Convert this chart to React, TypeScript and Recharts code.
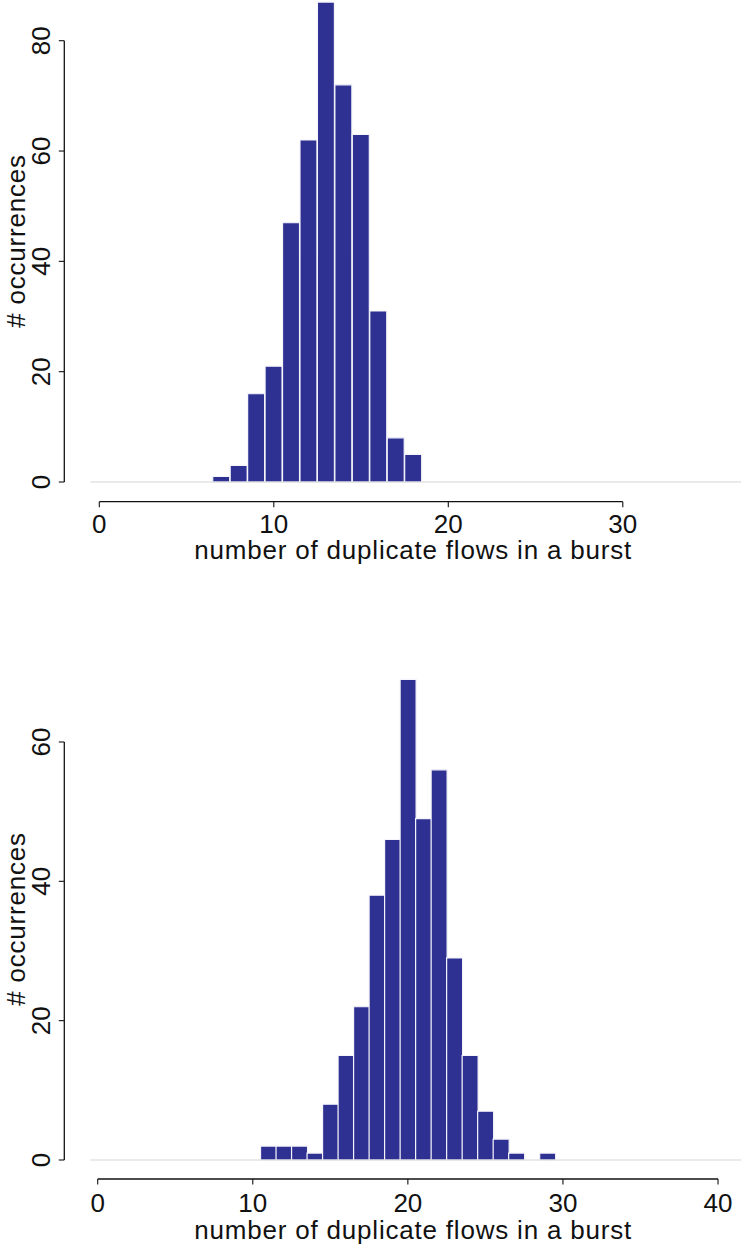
import React from 'react';
import { ComposedChart, Bar, XAxis, YAxis, ReferenceLine } from 'recharts';

// ---- data: top histogram ----
const burstSizesTop = [7, 8, 9, 10, 11, 12, 13, 14, 15, 16, 17, 18];
const occurrencesTop = [1, 3, 16, 21, 47, 62, 87, 72, 63, 31, 8, 5];
const xTicksTop = [0, 10, 20, 30];
const yTicksTop = [0, 20, 40, 60, 80];

// ---- data: bottom histogram ----
const burstSizesBottom = [11, 12, 13, 14, 15, 16, 17, 18, 19, 20, 21, 22, 23, 24, 25, 26, 27, 28, 29];
const occurrencesBottom = [2, 2, 2, 1, 8, 15, 22, 38, 46, 69, 49, 56, 29, 15, 7, 3, 1, 0, 1];
const xTicksBottom = [0, 10, 20, 30, 40];
const yTicksBottom = [0, 20, 40, 60];

const xLabelText = 'number of duplicate flows in a burst';
const yLabelText = '# occurrences';

const FONT = '"Liberation Sans", Arial, Helvetica, sans-serif';
const TEXT = '#111111';
const BAR = '#2E3192';

const YTick = (props: any) => {
  const { x, y, payload } = props;
  return (
    <text
      x={x}
      y={y}
      transform={`rotate(-90 ${x} ${y})`}
      textAnchor="middle"
      fontSize={26}
      fontFamily={FONT}
      fill={TEXT}
    >
      {payload.value}
    </text>
  );
};

type HistProps = {
  sizes: number[];
  counts: number[];
  xTicks: number[];
  yTicks: number[];
  height: number;
  plotBottom: number;
  xDomain: [number, number];
  yDomain: [number, number];
  xTickMargin: number;
  xLabelBaseline: number;
  yLabelCenter: number;
  binStart: number;
};

const Histogram = (p: HistProps) => {
  const xAxisHeight = p.height - p.plotBottom;
  const data = p.sizes.map((s, i) => ({ size: s, count: p.counts[i] }));
  const xFirst = p.xTicks[0];
  const xLast = p.xTicks[p.xTicks.length - 1];
  const yFirst = p.yTicks[0];
  const yLast = p.yTicks[p.yTicks.length - 1];
  return (
    <ComposedChart
      width={741}
      height={p.height}
      data={data}
      margin={{ top: 0, right: 0, bottom: 0, left: 0 }}
      barCategoryGap={0}
      barGap={0}
    >
      <XAxis
        dataKey="size"
        type="number"
        domain={p.xDomain}
        allowDataOverflow
        ticks={p.xTicks}
        interval={0}
        axisLine={false}
        tickLine={{ stroke: TEXT, strokeWidth: 1.1 }}
        tickSize={5.5}
        tickMargin={p.xTickMargin}
        tick={{ fontSize: 26, fontFamily: FONT, fill: TEXT }}
        height={xAxisHeight}
        label={{
          content: (lp: any) => {
            const vb = lp.viewBox || {};
            return (
              <text
                x={vb.x + vb.width / 2 + 10.5}
                y={vb.y + p.xLabelBaseline}
                textAnchor="middle"
                fontSize={26}
                letterSpacing={0.8}
                fontFamily={FONT}
                fill={TEXT}
              >
                {xLabelText}
              </text>
            );
          },
        }}
      />
      <YAxis
        type="number"
        domain={p.yDomain}
        allowDataOverflow
        ticks={p.yTicks}
        interval={0}
        width={64.3}
        axisLine={false}
        tickLine={{ stroke: TEXT, strokeWidth: 1.1 }}
        tickSize={5.5}
        tickMargin={8.3}
        tick={<YTick />}
        label={{
          content: (lp: any) => {
            const vb = lp.viewBox || {};
            const cx = vb.x + 25.3;
            const cy = vb.y + p.yLabelCenter;
            return (
              <text
                x={cx}
                y={cy}
                transform={`rotate(-90 ${cx} ${cy})`}
                textAnchor="middle"
                fontSize={26}
                letterSpacing={0.8}
                fontFamily={FONT}
                fill={TEXT}
              >
                {yLabelText}
              </text>
            );
          },
        }}
      />
      <ReferenceLine
        segment={[
          { x: p.binStart, y: 0 },
          { x: p.xDomain[1], y: 0 },
        ]}
        stroke="#d6d6d6"
        strokeWidth={1.2}
        ifOverflow="visible"
      />
      <Bar dataKey="count" fill={BAR} stroke="#f4f4fa" strokeWidth={1.2} isAnimationActive={false} />
      <ReferenceLine
        segment={[
          { x: xFirst, y: p.yDomain[0] },
          { x: xLast, y: p.yDomain[0] },
        ]}
        stroke={TEXT}
        strokeWidth={1.3}
        ifOverflow="visible"
      />
      <ReferenceLine
        segment={[
          { x: p.xDomain[0], y: yFirst },
          { x: p.xDomain[0], y: yLast },
        ]}
        stroke={TEXT}
        strokeWidth={1.3}
        ifOverflow="visible"
      />
    </ComposedChart>
  );
};

export default function App() {
  return (
    <div style={{ position: 'absolute', left: 0, top: 0, width: 741, height: 1247, background: '#fff' }}>
      <div style={{ position: 'absolute', left: 0, top: 0 }}>
        <Histogram
          sizes={burstSizesTop}
          counts={occurrencesTop}
          xTicks={xTicksTop}
          yTicks={yTicksTop}
          height={580}
          plotBottom={501.7}
          xDomain={[-2.006, 36.774]}
          yDomain={[-3.571, 87.38]}
          xTickMargin={7.6}
          xLabelBaseline={57.6}
          yLabelCenter={241}
          binStart={-0.5}
        />
      </div>
      <div style={{ position: 'absolute', left: 0, top: 600 }}>
        <Histogram
          sizes={burstSizesBottom}
          counts={occurrencesBottom}
          xTicks={xTicksBottom}
          yTicks={yTicksBottom}
          height={647}
          plotBottom={579}
          xDomain={[-2.154, 41.482]}
          yDomain={[-2.727, 80.38]}
          xTickMargin={9.5}
          xLabelBaseline={60.3}
          yLabelCenter={319}
          binStart={-0.5}
        />
      </div>
    </div>
  );
}
